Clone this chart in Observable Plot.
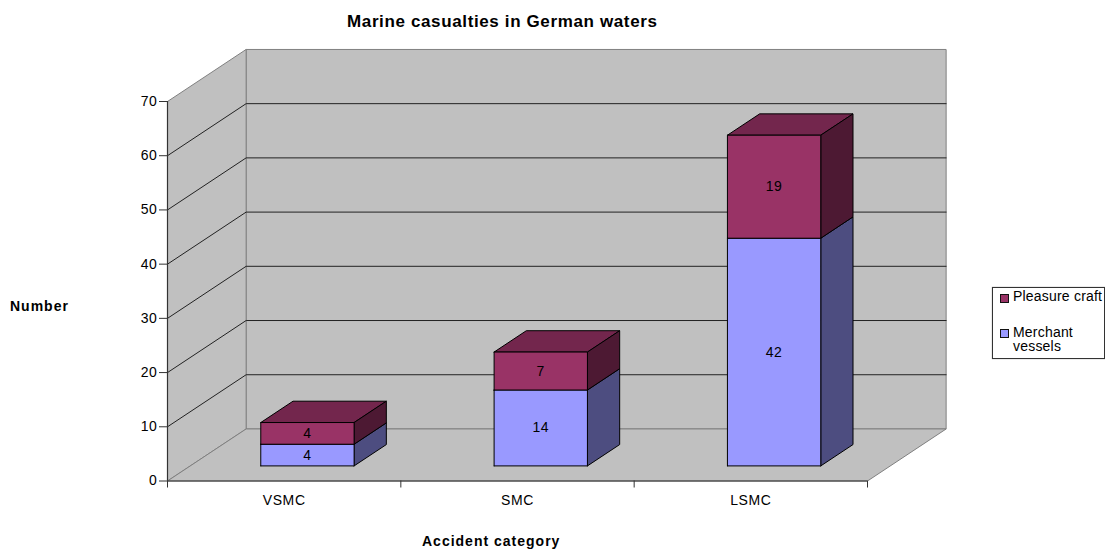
<!DOCTYPE html>
<html>
<head>
<meta charset="utf-8">
<script src="https://cdn.jsdelivr.net/npm/d3@7"></script>
<script src="https://cdn.jsdelivr.net/npm/@observablehq/plot@0.6"></script>
<style>
  html, body { margin: 0; padding: 0; background: #fff; }
  #chart { position: relative; width: 1105px; height: 550px; overflow: hidden;
           font-family: "Liberation Sans", Arial, sans-serif; color: #000; }
  #chart svg { display: block; position: absolute; left: 0; top: 0; background: #fff; }
  .t { position: absolute; white-space: nowrap; font-size: 14px; line-height: 14px; letter-spacing: 0.2px; }
  .b { font-weight: bold; letter-spacing: 1px; }
  #legend { position: absolute; left: 992px; top: 287px; width: 111px; height: 70px;
            border: 1px solid #333; box-shadow: 0 0 1px #888; background: #fff; }
  .sw { position: absolute; width: 7px; height: 7px; border: 1px solid #111; }
</style>
</head>
<body>
<div id="chart"></div>
<script>
// Casualty counts per accident category
const categories = ["VSMC", "SMC", "LSMC"];
const merchantVessels = [4, 14, 42];
const pleasureCraft = [4, 7, 19];
const valueTicks = [0, 10, 20, 30, 40, 50, 60, 70];

// Oblique projection: one unit of depth shifts a point along x and y (in scale units)
const depthX = 0.337;
const depthY = 9.6;
const project = (x, y, d) => ({x: x + d * depthX, y: y + d * depthY});

// Column placement inside each category band and along the depth axis
const barStart = 0.302;
const barWidth = 0.4;
const depthNear = 0.29;
const depthFar = 0.70;

const xMax = categories.length;
const yMax = 70;

// Turns a list of [x, y, depth] corners into a closed polygon series
let polyId = 0;
function polygon(corners, fill, stroke) {
  const id = polyId++;
  return [...corners, corners[0]].map(([x, y, d]) => ({...project(x, y, d), id, fill, stroke}));
}
const drawPolys = (rows, strokeWidth) =>
  Plot.line(rows, {x: "x", y: "y", z: "id", fill: "fill", stroke: "stroke", strokeWidth, curve: "linear"});

// Chart walls and floor
const wallFill = "#c0c0c0";
const wallEdge = "#808080";
const walls = [
  ...polygon([[0, 0, 1], [xMax, 0, 1], [xMax, yMax, 1], [0, yMax, 1]], wallFill, wallEdge),
  ...polygon([[0, 0, 0], [0, 0, 1], [0, yMax, 1], [0, yMax, 0]], wallFill, wallEdge),
  ...polygon([[0, 0, 0], [xMax, 0, 0], [xMax, 0, 1], [0, 0, 1]], wallFill, wallEdge)
];

// Gridlines run along the side wall and across the back wall
const gridRows = valueTicks.filter((v) => v > 0 && v < yMax).flatMap((v) => [
  {...project(0, v, 0), id: v},
  {...project(0, v, 1), id: v},
  {...project(xMax, v, 1), id: v}
]);

// One box per stacked segment; near faces are painted last
const merchantColors = {front: "#9999ff", side: "#4d4d80", top: "#73739f"};
const pleasureColors = {front: "#993366", side: "#4d1933", top: "#73264d"};
const boxes = [];
const labels = [];
categories.forEach((category, i) => {
  const x0 = i + barStart;
  const x1 = x0 + barWidth;
  const stack = [
    [0, merchantVessels[i], merchantColors],
    [merchantVessels[i], merchantVessels[i] + pleasureCraft[i], pleasureColors]
  ];
  for (const [y0, y1, c] of stack) {
    boxes.push(
      ...polygon([[x0, y1, depthNear], [x1, y1, depthNear], [x1, y1, depthFar], [x0, y1, depthFar]], c.top, "#000"),
      ...polygon([[x1, y0, depthNear], [x1, y0, depthFar], [x1, y1, depthFar], [x1, y1, depthNear]], c.side, "#000"),
      ...polygon([[x0, y0, depthNear], [x1, y0, depthNear], [x1, y1, depthNear], [x0, y1, depthNear]], c.front, "#000")
    );
    labels.push({...project((x0 + x1) / 2, (y0 + y1) / 2, depthNear), value: y1 - y0});
  }
});

const chart = Plot.plot({
  width: 1105,
  height: 550,
  marginLeft: 167,
  marginRight: 238,
  marginTop: 101,
  marginBottom: 69.5,
  style: {fontFamily: '"Liberation Sans", Arial, sans-serif', fontSize: "14px", letterSpacing: "0.6px", color: "#000", background: "#fff"},
  x: {type: "linear", domain: [0, xMax]},
  y: {type: "linear", domain: [0, yMax]},
  marks: [
    drawPolys(walls, 1),
    Plot.line(gridRows, {x: "x", y: "y", z: "id", stroke: "#222", strokeWidth: 1}),
    drawPolys(boxes, 1),
    Plot.text(labels, {x: "x", y: "y", text: "value", fill: "#000", fontSize: 14}),
    Plot.ruleY([0], {stroke: "#333", strokeWidth: 1.2}),
    Plot.ruleX([0], {stroke: "#333", strokeWidth: 1.2}),
    Plot.axisY({ticks: valueTicks, tickSize: 8, tickPadding: 2, stroke: "#333", label: null, fill: "#000", fontSize: 14}),
    Plot.axisX({ticks: d3.range(0, xMax + 1), tickSize: 7, tickFormat: () => "", stroke: "#333", label: null}),
    Plot.axisX({ticks: categories.map((_, i) => i + 0.5), tickSize: 0, tickPadding: 14,
      tickFormat: (d) => categories[Math.floor(d)], label: null, fill: "#000", fontSize: 14})
  ]
});

const root = document.getElementById("chart");
root.append(chart);

// Title, axis captions and the legend box sit around the plot
function addText(text, left, top, bold) {
  const el = document.createElement("div");
  el.className = "t" + (bold ? " b" : "");
  el.textContent = text;
  el.style.left = left + "px";
  el.style.top = top + "px";
  root.append(el);
  return el;
}
const title = addText("Marine casualties in German waters", 347, 15, true);
title.style.fontSize = "17px";
title.style.letterSpacing = "0.63px";
addText("Number", 10, 299, true);
addText("Accident category", 422, 534, true);

const legend = document.createElement("div");
legend.id = "legend";
root.append(legend);
const swatch = (color, top) => {
  const s = document.createElement("div");
  s.className = "sw";
  s.style.left = "7px";
  s.style.top = top + "px";
  s.style.background = color;
  legend.append(s);
};
swatch(pleasureColors.front, 6);
swatch(merchantColors.front, 41);
addText("Pleasure craft", 1013, 289);
addText("Merchant", 1013, 325);
addText("vessels", 1013, 339);
</script>
</body>
</html>
